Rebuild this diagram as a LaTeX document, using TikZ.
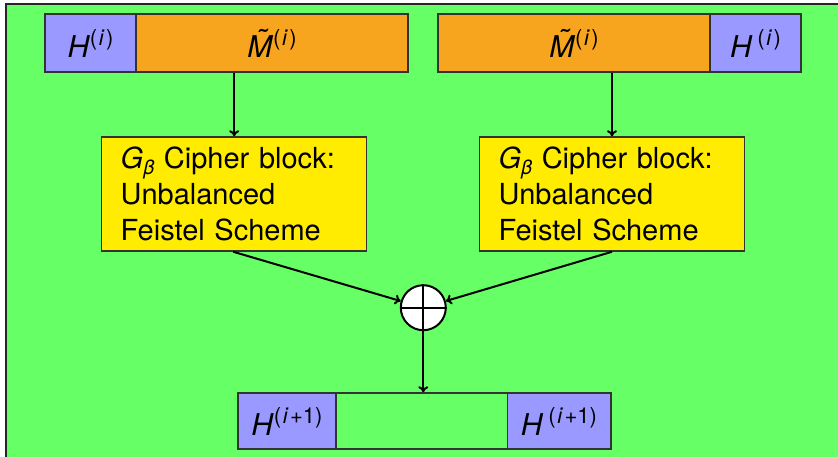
\documentclass[tikz,border=0pt]{standalone}
\usepackage{fontspec}
\setmainfont{TeX Gyre Heros}
\usetikzlibrary{arrows.meta}
\definecolor{bggreen}{HTML}{66FF66}
\definecolor{hblue}{HTML}{9999FF}
\definecolor{morange}{HTML}{F7A51E}
\definecolor{gyellow}{HTML}{FFEC00}
% small raised / lowered text for indices
\newcommand\upidx[1]{\raisebox{0.4em}{\fontsize{22}{22}\selectfont #1}}
\newcommand\lowidx[1]{\raisebox{-0.22em}{\fontsize{20}{20}\selectfont #1}}
% italic index letter with a little room on both sides
\newcommand\idxi{\kern0.07em\textit{i}\kern0.07em}
% italic M with a tilde accent
\newcommand\tildeM{\textit{\accent"02DC M}}
\begin{document}
\begin{tikzpicture}[x=1pt,y=-1pt,
  every node/.style={font=\fontsize{30}{36}\selectfont},
  box/.style={draw=black!80, line width=1.5pt, rectangle, inner sep=0pt,
    minimum height=58pt},
  hbox/.style={box, fill=hblue},
  mbox/.style={box, fill=morange, minimum width=272pt},
  gbox/.style={draw=black!80, line width=1.5pt, fill=gyellow, rectangle,
    inner xsep=19pt, inner ysep=0pt, minimum height=114pt,
    text width=227pt, align=left, font=\fontsize{29}{36}\selectfont},
  xorc/.style={circle, draw=black, fill=white, line width=2pt,
    minimum size=45pt, inner sep=0pt},
  flow/.style={draw=black, line width=2pt, -{To[length=6pt,width=10pt]}}
]
\useasboundingbox (0,0) rectangle (838,457);
\fill[white] (0,0) rectangle (838,457);
\fill[bggreen] (6,4) rectangle (840,460);
\draw[black!85, line width=1.5pt] (6,460) -- (6,4) -- (840,4);

% input blocks
\node[hbox, minimum width=91pt] (hl) at (90.5,43) {\textit{H}\upidx{(\idxi)}};
\node[mbox] (ml) at (272,43) {\tildeM\upidx{(\idxi)}};
\node[mbox] (mr) at (574,43) {\tildeM\upidx{(\idxi)}};
\node[hbox, minimum width=91pt] (hr) at (755.5,43) {\textit{H}\,\upidx{(\idxi)}};

% cipher blocks
\node[gbox] (gl) at (234.2,194) {\textit{G}\lowidx{\textit{β}} Cipher block:\\Unbalanced\\Feistel Scheme};
\node[gbox] (gr) at (612,194) {\textit{G}\lowidx{\textit{β}} Cipher block:\\Unbalanced\\Feistel Scheme};

% combining xor
\node[xorc] (x) at (423.3,307.7) {};
\draw[line width=2pt] (x.north) -- (x.south) (x.west) -- (x.east);

% output blocks
\node[hbox, minimum width=97.7pt, minimum height=56pt] (ol) at (287,421) {\textit{H}\upidx{(\idxi+1)}};
\node[box, fill=bggreen, minimum width=171.5pt, minimum height=56pt] (om) at (421.5,421) {};
\node[hbox, minimum width=103.5pt, minimum height=56pt] (or) at (559,421) {\textit{H}\,\upidx{(\idxi+1)}};

% connectors
\draw[flow] (ml.south -| gl.north) -- (gl.north);
\draw[flow] (mr.south -| gr.north) -- (gr.north);
\draw[flow] ([xshift=-1pt]gl.south) -- (x);
\draw[flow] (gr.south) -- (x);
\draw[flow] (x.south) -- (x.south |- om.north);
\end{tikzpicture}
\end{document}
